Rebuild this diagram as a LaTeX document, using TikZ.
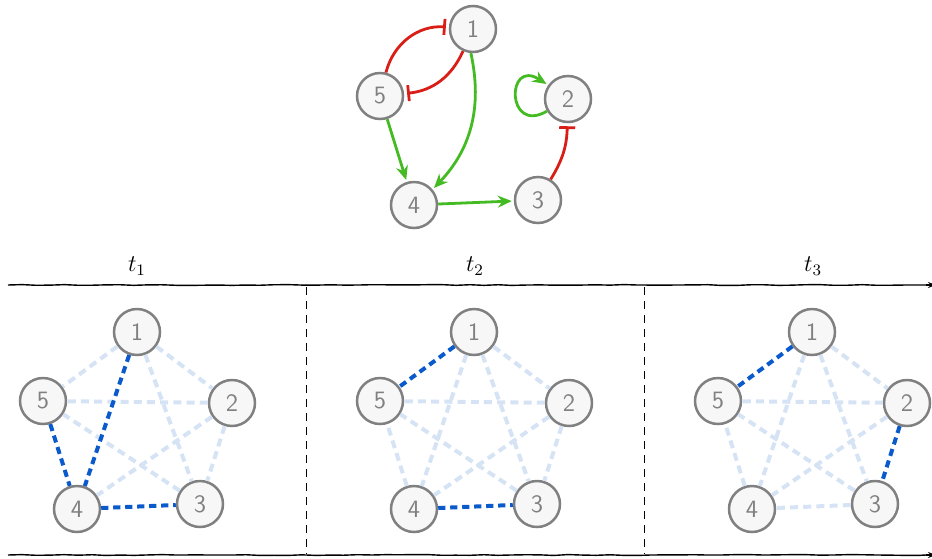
\documentclass[tikz,border=0pt]{standalone}
\usetikzlibrary{arrows.meta,decorations.pathmorphing}
\definecolor{nodefill}{HTML}{F7F7F7}
\definecolor{nodegray}{HTML}{808080}
\definecolor{lightblue}{HTML}{D5E3F5}
\definecolor{darkblue}{HTML}{0A5ACC}
\definecolor{inhred}{HTML}{D91E18}
\definecolor{actgreen}{HTML}{44BB22}
\tikzset{
  gnode/.style={circle,draw=nodegray,fill=nodefill,line width=1.25pt,minimum size=23pt,inner sep=0pt,
    text=nodegray,font=\sffamily\fontsize{12.5}{12.5}\selectfont},
  act/.style={draw=actgreen,line width=1.4pt,-{Stealth[length=7pt,width=6pt]},shorten >=1pt},
  inh/.style={draw=inhred,line width=1.4pt,-{Bar[width=8pt,line width=1.4pt]},shorten >=1.5pt},
  lightedge/.style={draw=lightblue,line width=2pt,dash pattern=on 4pt off 2.6pt},
  darkedge/.style={draw=darkblue,line width=2pt,dash pattern=on 3.6pt off 2.4pt},
  timeline/.style={draw=black,line width=0.7pt,decorate,decoration={random steps,segment length=7pt,amplitude=0.22pt}},
  sep/.style={draw=black,line width=0.5pt,dash pattern=on 4pt off 3pt},
  tlabel/.style={font=\fontsize{12}{14}\selectfont}
}
\begin{document}
\begin{tikzpicture}[x=0.5pt,y=-0.5pt]
\useasboundingbox (0,0) rectangle (932,558);
% ---------- top regulatory graph ----------
\node[gnode] (t1) at (473,29) {1};
\node[gnode] (t5) at (380,96) {5};
\node[gnode] (t2) at (568,99) {2};
\node[gnode] (t4) at (414,205) {4};
\node[gnode] (t3) at (538,200) {3};
\draw[inh] (t5) to[bend left=40] (t1);
\draw[inh] (t1) to[bend left=30] (t5);
\draw[act] (t1.265) to[bend left=28] (t4.40);
\draw[act] (t5) -- (t4);
\draw[act] (t4) -- (t3);
\draw[inh] (t3) to[bend right=15] (t2);
\draw[act] (t2.210) .. controls (506,135) and (506,58) .. (t2.145);
% ---------- timeline ----------
\draw[timeline] (8,285) -- (926,285);
\draw[-{Stealth[length=4pt]},line width=0.7pt] (926,285) -- (936,285);
\draw[timeline] (8,555) -- (926,555);
\draw[-{Stealth[length=4pt]},line width=0.7pt] (926,555) -- (936,555);
\coordinate (s1a) at (306,287); \coordinate (s1b) at (306,554);
\coordinate (s2a) at (644,287); \coordinate (s2b) at (644,554);
\draw[sep] (s1a) -- (s1b);
\draw[sep] (s2a) -- (s2b);
\node[tlabel] (l1) at (137,266) {$t_1$};
\node[tlabel] (l2) at (475,266) {$t_2$};
\node[tlabel] (l3) at (813,266) {$t_3$};
% ---------- panels ----------
\foreach \p/\dx in {a/0,b/337,c/675}{
  \node[gnode] (\p1) at (137+\dx,332) {1};
  \node[gnode] (\p2) at (232+\dx,403) {2};
  \node[gnode] (\p3) at (200+\dx,504) {3};
  \node[gnode] (\p4) at (77+\dx,509) {4};
  \node[gnode] (\p5) at (43+\dx,401) {5};
}
% panel a
\foreach \u/\v in {1/2,1/3,1/5,2/3,2/4,2/5,3/5}{\draw[lightedge] (a\u) -- (a\v);}
\foreach \u/\v in {1/4,5/4,4/3}{\draw[darkedge] (a\u) -- (a\v);}
% panel b
\foreach \u/\v in {1/2,1/3,1/4,2/3,2/4,2/5,3/5,4/5}{\draw[lightedge] (b\u) -- (b\v);}
\foreach \u/\v in {1/5,4/3}{\draw[darkedge] (b\u) -- (b\v);}
% panel c
\foreach \u/\v in {1/2,1/3,1/4,2/4,2/5,3/4,3/5,4/5}{\draw[lightedge] (c\u) -- (c\v);}
\foreach \u/\v in {1/5,2/3}{\draw[darkedge] (c\u) -- (c\v);}
\end{tikzpicture}
\end{document}
